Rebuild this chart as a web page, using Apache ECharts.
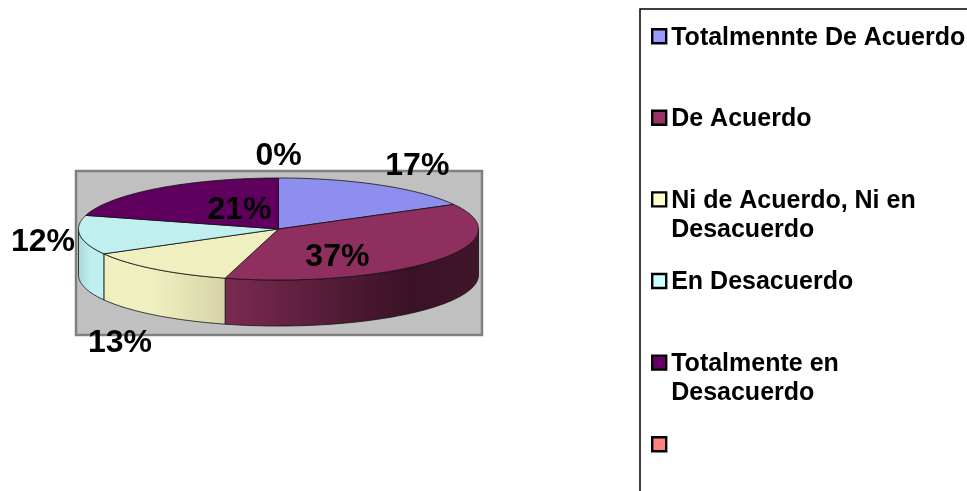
<!DOCTYPE html>
<html><head><meta charset="utf-8">
<style>html,body{margin:0;padding:0;background:#fff}#c{width:967px;height:491px}</style>
<script src="https://cdn.jsdelivr.net/npm/echarts@6/dist/echarts.min.js"></script>
</head><body><div id="c"></div>
<script>
const categories = ['Totalmennte De Acuerdo','De Acuerdo','Ni de Acuerdo, Ni en\nDesacuerdo','En Desacuerdo','Totalmente en\nDesacuerdo',' '];
const values = [17,37.3,12.6,12.4,20.7,0];
const legendColors = ['#9999ff','#993366','#ffffcc','#ccffff','#660066','#ff8080'];
const topColors = ['#8e8eee','#8f2f5f','#efefc0','#bfefef','#5f005f','#ee7777'];
const wallStops = [
  null,
  [[0,'#7a2a52'],[0.72,'#3a1225'],[1,'#40162a']],
  [[0,'#efefc0'],[0.4,'#efefc0'],[1,'#d6d4a6']],
  [[0,'#a8d8d8'],[0.5,'#bfefef'],[1,'#bfefef']],
  null,null
];
// layout of the pie
const pie = {cx:278.5, cy:229, rx:200, ry:51, depth:46};
const labelShift = [[37,-19],[-98,-3],[-35,74],[-37,7],[82,22],[0,-22]];
const total = values.reduce((a,b)=>a+b,0);
const starts = values.map((v,i)=>values.slice(0,i).reduce((a,b)=>a+b,0));
const pt = (deg,dy)=>{const r=deg*Math.PI/180;return [pie.cx+pie.rx*Math.sin(r),pie.cy-pie.ry*Math.cos(r)+(dy||0)];};
function arc(a0,a1,dy){const n=Math.max(2,Math.ceil(Math.abs(a1-a0)));const out=[];for(let k=0;k<=n;k++){out.push(pt(a0+(a1-a0)*k/n,dy));}return out;}
function renderSlice(i){
  return function(params,api){
    const v=api.value(0);
    const a0=starts[i]/total*360, a1=a0+v/total*360;
    const children=[];
    const lo=Math.max(a0,90), hi=Math.min(a1,270);
    if(hi>lo && wallStops[i]){
      const top=arc(lo,hi,0), bot=arc(hi,lo,pie.depth);
      children.push({type:'polygon',shape:{points:top.concat(bot)},z2:1,
        style:{fill:{type:'linear',x:0,y:0,x2:1,y2:0,colorStops:wallStops[i].map(s=>({offset:s[0],color:s[1]}))},stroke:'#111',lineWidth:0.8}});
    }
    if(v>0){
      children.push({type:'polygon',shape:{points:[[pie.cx,pie.cy]].concat(arc(a0,a1,0))},z2:2,
        style:{fill:topColors[i],stroke:'#111',lineWidth:0.8}});
    }
    const mid=pt((a0+a1)/2);
    children.push({type:'text',z2:5,x:mid[0]+labelShift[i][0],y:mid[1]+labelShift[i][1],
      style:{text:Math.round(v)+'%',fill:'#000',font:'bold 32px "Liberation Sans"',align:'center',verticalAlign:'middle'}});
    return {type:'group',children};
  };
}
const chart=echarts.init(document.getElementById('c'),null,{renderer:'canvas'});
chart.setOption({
  animation:false,
  backgroundColor:'#fff',
  graphic:[{type:'rect',z:0,silent:true,shape:{x:76,y:171,width:406,height:164},style:{fill:'#c0c0c0',stroke:'#808080',lineWidth:2.5}}],
  legend:{
    orient:'vertical',left:640,top:9,width:500,height:700,
    padding:[13,100,100,11],
    borderColor:'#000',borderWidth:1.5,
    itemWidth:14,itemHeight:58,itemGap:21.2,
    symbolKeepAspect:false,
    icon:'path://M0 0L0 0M0 6H14V20H0ZM0 58L0 58',
    itemStyle:{borderColor:'#000',borderWidth:2.4},
    data:categories,
    selectedMode:false,
    formatter:n=>n.indexOf('\n')>=0?n:n+'\n ',
    textStyle:{fontFamily:'Liberation Sans',fontWeight:'bold',fontSize:25,lineHeight:29,color:'#000'}
  },
  series:categories.map((name,i)=>({
    type:'custom',name,coordinateSystem:'none',silent:true,
    itemStyle:{color:legendColors[i]},
    data:[[values[i]]],
    renderItem:renderSlice(i)
  }))
});
</script></body></html>
